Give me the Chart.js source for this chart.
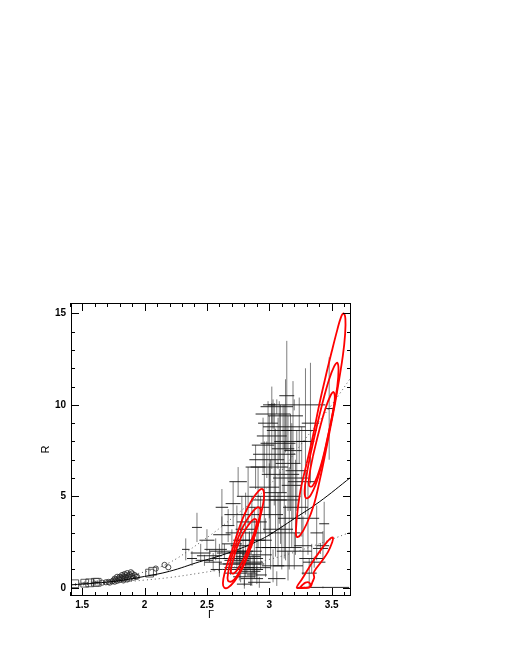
<!DOCTYPE html>
<html>
<head>
<meta charset="utf-8">
<script src="https://cdn.jsdelivr.net/npm/chart.js@4.4.0/dist/chart.umd.min.js"></script>
<style>
  body { margin: 0; background: #fff; }
  canvas { display: block; }
</style>
</head>
<body>
<canvas id="myChart" width="518" height="670"></canvas>
<script>
// axis ticks
const xTicks = [1.5, 2, 2.5, 3, 3.5];
const xTickLabels = ['1.5', '2', '2.5', '3', '3.5'];
const yTicks = [0, 5, 10, 15];
const yTickLabels = ['0', '5', '10', '15'];

// model curves
const fitG = [1.41, 1.6, 1.8, 2.0, 2.2, 2.44, 2.6, 2.8, 2.92, 3.0, 3.2, 3.4, 3.655];
const fitR = [0.16, 0.25, 0.39, 0.62, 0.9, 1.42, 1.74, 2.23, 2.6, 2.89, 3.78, 4.69, 6.05];
const upperG = [1.41, 1.6, 1.8, 1.9, 2.16, 2.45, 2.7, 3.0, 3.25, 3.5, 3.655];
const upperR = [0.2, 0.33, 0.52, 0.69, 1.24, 2.5, 3.8, 5.6, 7.8, 10.0, 11.5];
const lowerG = [1.41, 1.6, 1.8, 2.0, 2.2, 2.44, 2.7, 3.0, 3.25, 3.5, 3.655];
const lowerR = [0.12, 0.2, 0.3, 0.42, 0.56, 0.8, 1.1, 1.55, 2.05, 2.65, 3.05];

// low-Gamma sources
const squareG = [1.44, 1.52, 1.56, 1.605, 1.62, 2.04, 2.065];
const squareR = [0.22, 0.25, 0.27, 0.3, 0.3, 0.8, 0.9];
const circleG = [1.66, 1.69, 1.71, 1.72, 1.74, 1.75, 1.76, 1.77, 1.78, 1.79, 1.8, 1.8, 1.81, 1.82, 1.82, 1.83,
  1.84, 1.84, 1.85, 1.85, 1.86, 1.86, 1.87, 1.88, 1.88, 1.89, 1.9, 1.9, 1.91, 1.92, 1.93, 1.94, 1.78, 1.76, 1.83,
  2.09, 2.16, 2.19];
const circleR = [0.28, 0.3, 0.32, 0.28, 0.35, 0.4, 0.33, 0.45, 0.38, 0.5, 0.42, 0.6, 0.55, 0.48, 0.7, 0.62,
  0.5, 0.75, 0.58, 0.68, 0.45, 0.8, 0.62, 0.72, 0.5, 0.85, 0.65, 0.78, 0.55, 0.7, 0.62, 0.6, 0.6, 0.5, 0.4,
  1.05, 1.25, 1.12];

// error-bar sources: [Gamma, R, dGamma, dR]
const errorBars = [
  [1.52, 0.25, 0.03, 0.1], [1.6, 0.3, 0.03, 0.15], [1.62, 0.3, 0.02, 0.12],
  [2.33, 2.1, 0.03, 0.6], [2.38, 1.6, 0.04, 0.4], [2.42, 3.3, 0.04, 0.8], [2.45, 1.9, 0.08, 0.5],
  [2.48, 1.5, 0.07, 0.3], [2.5, 2.6, 0.06, 0.6], [2.52, 1.75, 0.1, 0.35], [2.55, 1.4, 0.07, 0.5],
  [2.57, 2.1, 0.09, 0.6], [2.6, 1.6, 0.06, 0.8], [2.62, 2.9, 0.07, 1.0], [2.6, 1.0, 0.07, 0.4],
  [2.64, 2.0, 0.12, 0.4], [2.62, 4.4, 0.05, 1.0],
  [2.67, 3.4, 0.05, 0.9], [2.69, 1.3, 0.09, 0.6], [2.7, 2.4, 0.08, 0.8], [2.71, 4.6, 0.06, 1.2],
  [2.72, 1.9, 0.14, 0.4], [2.74, 3.0, 0.09, 1.5], [2.75, 5.8, 0.07, 0.8], [2.76, 1.1, 0.12, 0.7],
  [2.77, 2.3, 0.08, 1.2], [2.78, 4.0, 0.14, 1.0], [2.79, 1.6, 0.16, 0.5], [2.8, 0.6, 0.09, 0.5],
  [2.81, 3.2, 0.08, 2.0], [2.82, 1.4, 0.13, 0.6], [2.83, 5.0, 0.09, 1.6], [2.84, 2.0, 0.1, 1.0],
  [2.85, 0.9, 0.08, 0.8], [2.86, 3.6, 0.12, 1.4], [2.87, 1.3, 0.09, 0.5], [2.88, 2.6, 0.14, 1.8],
  [2.89, 6.6, 0.08, 1.2], [2.9, 1.8, 0.12, 1.3], [2.91, 4.4, 0.09, 2.2], [2.92, 0.3, 0.09, 0.3],
  [2.93, 3.0, 0.1, 2.0], [2.8, 0.2, 0.06, 0.25],
  [2.74, 1.5, 0.1, 0.6], [2.77, 0.8, 0.13, 0.5], [2.79, 2.0, 0.08, 0.9], [2.81, 1.0, 0.14, 0.4],
  [2.83, 1.7, 0.1, 0.7], [2.86, 0.5, 0.09, 0.4], [2.78, 1.3, 0.15, 0.3], [2.88, 1.1, 0.13, 0.6],
  [2.9, 0.7, 0.08, 0.5], [2.84, 2.6, 0.13, 0.5], [2.76, 1.9, 0.08, 0.4],
  [2.95, 7.8, 0.09, 1.5], [2.96, 5.5, 0.12, 2.5], [2.97, 2.2, 0.08, 1.6], [2.99, 9.0, 0.08, 1.2],
  [3.0, 6.6, 0.15, 2.8], [3.01, 4.0, 0.1, 3.0], [3.02, 8.3, 0.12, 1.8], [3.03, 1.2, 0.09, 0.9],
  [3.04, 7.3, 0.17, 2.8], [3.05, 5.2, 0.09, 3.5], [3.06, 9.9, 0.13, 0.4], [3.07, 3.2, 0.12, 2.0],
  [3.08, 8.6, 0.1, 1.6], [3.09, 6.2, 0.15, 3.8], [3.1, 2.2, 0.16, 1.2], [3.11, 7.6, 0.09, 2.4],
  [3.12, 4.8, 0.12, 3.2], [3.13, 9.4, 0.14, 2.0], [3.14, 10.5, 0.06, 3.0], [3.15, 6.8, 0.1, 2.6],
  [3.16, 3.8, 0.09, 2.8], [3.17, 8.0, 0.13, 1.5], [3.18, 5.6, 0.08, 3.4], [3.19, 7.5, 0.07, 3.8],
  [3.2, 2.0, 0.14, 1.0], [3.21, 4.4, 0.1, 2.6], [3.22, 6.4, 0.09, 2.2], [3.15, 1.2, 0.12, 0.8],
  [3.06, 0.5, 0.07, 0.4],
  [2.98, 7.0, 0.14, 1.0], [3.03, 9.5, 0.14, 0.8], [3.08, 5.0, 0.17, 1.5], [3.12, 8.8, 0.17, 1.2],
  [3.17, 6.0, 0.14, 1.8], [3.0, 4.8, 0.14, 2.0], [3.13, 3.0, 0.12, 1.5], [3.24, 8.6, 0.14, 1.8],
  [3.07, 7.9, 0.14, 1.4], [3.02, 10.0, 0.03, 1.0],
  [3.2, 10.0, 0.25, 0.3], [3.26, 5.8, 0.11, 3.0], [3.27, 2.3, 0.07, 1.6], [3.29, 8.0, 0.07, 4.0],
  [3.31, 3.8, 0.09, 2.0], [3.33, 9.0, 0.07, 3.3], [3.34, 1.6, 0.1, 0.8], [3.36, 1.4, 0.09, 0.3],
  [3.43, 2.3, 0.05, 0.8], [3.41, 2.15, 0.06, 0.3], [3.44, 3.5, 0.04, 1.2], [3.48, 9.8, 0.03, 2.8],
  [3.38, 3.0, 0.05, 1.5], [3.32, 0.8, 0.06, 0.8], [3.43, 0.02, 0.21, 0.05]
];

// confidence contours, [Gamma, R]
const leftOuter = [[2.70, 2.0], [2.745, 3.0], [2.80, 4.0], [2.86, 4.8], [2.915, 5.3], [2.945, 5.4], [2.958, 5.1],
  [2.948, 4.5], [2.92, 3.7], [2.88, 2.8], [2.835, 1.9], [2.78, 1.0], [2.72, 0.35], [2.67, 0.02], [2.64, 0.0],
  [2.628, 0.25], [2.645, 0.9], [2.67, 1.45], [2.70, 2.0]];
const leftMid = [[2.72, 2.1], [2.76, 2.9], [2.81, 3.6], [2.865, 4.15], [2.905, 4.4], [2.928, 4.3], [2.92, 3.8],
  [2.89, 3.0], [2.85, 2.2], [2.80, 1.4], [2.745, 0.7], [2.70, 0.35], [2.668, 0.4], [2.672, 0.9], [2.69, 1.5],
  [2.72, 2.1]];
const leftInner = [[2.74, 2.2], [2.78, 2.85], [2.83, 3.4], [2.875, 3.75], [2.898, 3.7], [2.89, 3.25],
  [2.855, 2.55], [2.81, 1.8], [2.76, 1.15], [2.715, 0.78], [2.692, 0.85], [2.705, 1.4], [2.74, 2.2]];
const rightOuter = [[3.30, 6.8], [3.35, 8.3], [3.40, 10.0], [3.45, 11.5], [3.50, 12.9], [3.545, 14.1],
  [3.575, 14.8], [3.595, 15.0], [3.61, 14.7], [3.607, 13.8], [3.59, 12.7], [3.56, 11.4], [3.525, 10.0],
  [3.485, 8.6], [3.445, 7.2], [3.405, 5.9], [3.36, 4.6], [3.3, 3.5], [3.245, 2.85], [3.218, 2.8], [3.215, 3.3],
  [3.228, 4.3], [3.255, 5.5], [3.30, 6.8]];
const rightMid = [[3.33, 7.3], [3.38, 8.8], [3.43, 10.2], [3.48, 11.4], [3.52, 12.1], [3.545, 12.3],
  [3.555, 11.9], [3.545, 11.0], [3.515, 9.8], [3.475, 8.4], [3.43, 7.0], [3.38, 5.8], [3.33, 5.05],
  [3.295, 4.9], [3.283, 5.3], [3.30, 6.2], [3.33, 7.3]];
const rightInner = [[3.35, 7.2], [3.40, 8.6], [3.45, 9.8], [3.49, 10.5], [3.515, 10.7], [3.525, 10.3],
  [3.505, 9.4], [3.47, 8.3], [3.43, 7.1], [3.385, 6.1], [3.345, 5.55], [3.318, 5.6], [3.325, 6.3], [3.35, 7.2]];
const lowOuter = [[3.30, 0.9], [3.35, 1.45], [3.40, 1.95], [3.45, 2.4], [3.49, 2.7], [3.51, 2.75], [3.505, 2.5],
  [3.47, 1.95], [3.42, 1.45], [3.375, 1.05], [3.355, 0.8], [3.36, 0.55], [3.345, 0.3], [3.33, 0.05],
  [3.30, 0.0], [3.22, 0.0], [3.26, 0.45], [3.30, 0.9]];
const lowInner = [[3.245, 0.0], [3.265, 0.15], [3.29, 0.28], [3.315, 0.3], [3.33, 0.18], [3.32, 0.02],
  [3.28, 0.0], [3.245, 0.0]];

const toXY = (gs, rs) => gs.map((g, i) => ({ x: g, y: rs[i] }));
const pairs = list => list.map(([g, r]) => ({ x: g, y: r }));

function barPoints(horizontal) {
  const pts = [];
  errorBars.forEach(([g, r, dg, dr]) => {
    if (horizontal) pts.push({ x: g - dg, y: r }, { x: g + dg, y: r });
    else pts.push({ x: g, y: r - dr }, { x: g, y: r + dr });
    pts.push({ x: g, y: null });
  });
  return pts;
}

const contour = (list, t) => ({
  data: pairs(list), showLine: true, borderColor: '#ff0000', borderWidth: 1.8,
  pointRadius: 0, tension: t, fill: false, order: 0
});

// inner ticks and closed frame like the original plot
const frameTicks = {
  id: 'frameTicks',
  afterDraw(chart) {
    const { ctx, chartArea: a, scales: { x, y } } = chart;
    ctx.save();
    ctx.strokeStyle = '#000';
    ctx.lineWidth = 1;
    ctx.strokeRect(a.left + 0.5, a.top + 0.5, a.right - a.left - 1, a.bottom - a.top - 1);
    ctx.beginPath();
    for (let k = 14; k <= 36; k++) {
      const v = k / 10;
      const px = Math.round(x.getPixelForValue(v)) + 0.5;
      const len = k % 5 === 0 ? 8 : 4;
      ctx.moveTo(px, a.bottom); ctx.lineTo(px, a.bottom - len);
      ctx.moveTo(px, a.top); ctx.lineTo(px, a.top + len);
    }
    for (let v = 0; v <= 15; v++) {
      const py = Math.round(y.getPixelForValue(v)) + 0.5;
      const len = v % 5 === 0 ? 8 : 4;
      ctx.moveTo(a.left, py); ctx.lineTo(a.left + len, py);
      ctx.moveTo(a.right, py); ctx.lineTo(a.right - len, py);
    }
    ctx.stroke();
    ctx.restore();
  }
};

const ctx = document.getElementById('myChart').getContext('2d');
const myChart = new Chart(ctx, {
  type: 'scatter',
  data: {
    datasets: [
      contour(leftOuter, 0.4), contour(leftMid, 0.4), contour(leftInner, 0.4),
      contour(rightOuter, 0.4), contour(rightMid, 0.4), contour(rightInner, 0.4),
      contour(lowOuter, 0.25), contour(lowInner, 0.3),
      {
        data: toXY(fitG, fitR), showLine: true, borderColor: '#000', borderWidth: 1,
        pointRadius: 0, tension: 0.4, order: 1
      },
      {
        data: toXY(upperG, upperR), showLine: true, borderColor: '#555', borderWidth: 1,
        borderDash: [1, 3], pointRadius: 0, tension: 0.4, order: 1
      },
      {
        data: toXY(lowerG, lowerR), showLine: true, borderColor: '#555', borderWidth: 1,
        borderDash: [1, 3], pointRadius: 0, tension: 0.4, order: 1
      },
      {
        data: toXY(squareG, squareR), pointStyle: 'rect', pointRadius: 5.5, borderWidth: 0.8,
        borderColor: '#333', backgroundColor: 'rgba(0,0,0,0)', order: 1
      },
      {
        data: toXY(circleG, circleR), pointStyle: 'circle', pointRadius: 2.6, borderWidth: 0.8,
        borderColor: '#222', backgroundColor: 'rgba(0,0,0,0)', order: 1
      },
      {
        data: barPoints(false), showLine: true, spanGaps: false, borderColor: 'rgba(20,20,20,0.55)',
        borderWidth: 1, pointRadius: 0, order: 2
      },
      {
        data: barPoints(true), showLine: true, spanGaps: false, borderColor: 'rgba(0,0,0,0.85)',
        borderWidth: 1, pointRadius: 0, order: 2
      }
    ]
  },
  options: {
    responsive: false,
    animation: false,
    layout: { padding: { left: 39, top: 303, right: 167, bottom: 48 } },
    plugins: { legend: { display: false }, tooltip: { enabled: false } },
    scales: {
      x: {
        type: 'linear', min: 1.41, max: 3.655,
        afterBuildTicks: s => { s.ticks = xTicks.map(v => ({ value: v })); },
        afterFit: s => { s.height = 26; },
        grid: { display: false, drawTicks: false },
        border: { display: false },
        ticks: {
          autoSkip: false, maxRotation: 0, padding: 3, color: '#000',
          font: { family: 'Liberation Sans', size: 10, weight: 'bold' },
          callback: (v, i) => xTickLabels[i]
        },
        title: {
          display: true, text: 'Γ', color: '#000', padding: 0,
          font: { family: 'Liberation Sans', size: 11 }
        }
      },
      y: {
        type: 'linear', min: -0.45, max: 15.57,
        afterBuildTicks: s => { s.ticks = yTicks.map(v => ({ value: v })); },
        afterFit: s => { s.width = 32; },
        grid: { display: false, drawTicks: false },
        border: { display: false },
        ticks: {
          autoSkip: false, padding: 5, color: '#000',
          font: { family: 'Liberation Sans', size: 10, weight: 'bold' },
          callback: (v, i) => yTickLabels[i]
        },
        title: {
          display: true, text: 'R', color: '#000', padding: 0,
          font: { family: 'Liberation Sans', size: 11 }
        }
      }
    }
  },
  plugins: [frameTicks]
});
</script>
</body>
</html>
